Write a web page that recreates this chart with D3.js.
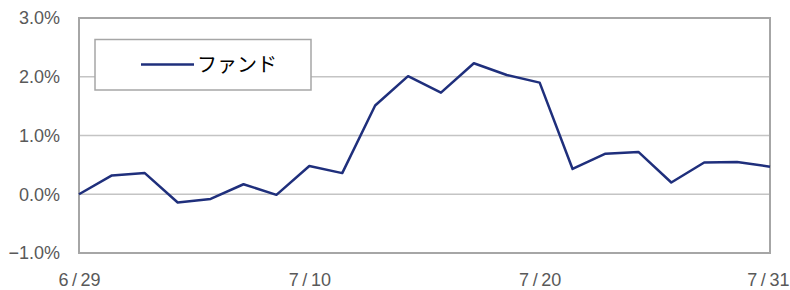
<!DOCTYPE html>
<html>
<head>
<meta charset="utf-8">
<script src="https://cdn.jsdelivr.net/npm/d3@7"></script>
<style>
  body { margin: 0; background: #fff; }
  .tick text { fill: #595959; font-family: "Liberation Sans", Arial, sans-serif; font-size: 18px; }
</style>
</head>
<body>
<div id="chart"></div>
<script>
// trading days, 2018
const dates = ['6/29', '7/2', '7/3', '7/4', '7/5', '7/6', '7/9', '7/10', '7/11', '7/12', '7/13',
  '7/17', '7/18', '7/19', '7/20', '7/23', '7/24', '7/25', '7/26', '7/27', '7/30', '7/31'];
const fund = [0.00, 0.32, 0.36, -0.14, -0.08, 0.17, -0.01, 0.48, 0.36, 1.51, 2.01,
  1.73, 2.23, 2.03, 1.90, 0.43, 0.69, 0.72, 0.20, 0.54, 0.55, 0.47];
const xTicks = ['6/29', '7/10', '7/20', '7/31'];
const yTicks = [-1, 0, 1, 2, 3];
const seriesName = 'ファンド';

const width = 790;
const height = 290;
const margin = {top: 18, right: 20, bottom: 37, left: 79};

const svg = d3.select('#chart').append('svg')
    .attr('width', width)
    .attr('height', height);

const x = d3.scalePoint()
    .domain(dates)
    .range([margin.left, width - margin.right]);

const y = d3.scaleLinear()
    .domain([-1, 3])
    .range([height - margin.bottom, margin.top]);

// gridlines
svg.append('g')
    .selectAll('line')
    .data(yTicks.filter(d => d > -1 && d < 3))
    .join('line')
    .attr('x1', margin.left)
    .attr('x2', width - margin.right)
    .attr('y1', d => y(d))
    .attr('y2', d => y(d))
    .attr('stroke', '#c4c4c4')
    .attr('stroke-width', 1.5);

// y axis labels
const yAxis = d3.axisLeft(y)
    .tickValues(yTicks)
    .tickSize(0)
    .tickPadding(19)
    .tickFormat(d => (d < 0 ? '\u2212' : '') + Math.abs(d).toFixed(1) + '%');

svg.append('g')
    .attr('transform', `translate(${margin.left},0)`)
    .call(yAxis)
    .call(g => g.select('.domain').remove());

// x axis labels, slash spaced out a little like the original
const xAxis = d3.axisBottom(x)
    .tickValues(xTicks)
    .tickSize(0)
    .tickPadding(20)
    .tickFormat(d => d.replace('/', '\u2009/\u2009'));

svg.append('g')
    .attr('transform', `translate(0,${height - margin.bottom})`)
    .call(xAxis)
    .call(g => g.select('.domain').remove())
    .call(g => g.selectAll('.tick:last-of-type text')
        .attr('text-anchor', 'end')
        .attr('dx', 19));

// plot border
svg.append('rect')
    .attr('x', margin.left)
    .attr('y', margin.top)
    .attr('width', width - margin.right - margin.left)
    .attr('height', height - margin.bottom - margin.top)
    .attr('fill', 'none')
    .attr('stroke', '#a6a6a6')
    .attr('stroke-width', 2);

// series line
const line = d3.line()
    .x((d, i) => x(dates[i]))
    .y(d => y(d));

svg.append('path')
    .datum(fund)
    .attr('fill', 'none')
    .attr('stroke', '#1f2f7c')
    .attr('stroke-width', 2.5)
    .attr('stroke-linejoin', 'round')
    .attr('d', line);

// legend
const legend = svg.append('g');
legend.append('rect')
    .attr('x', 95)
    .attr('y', 39.5)
    .attr('width', 216)
    .attr('height', 50.5)
    .attr('fill', '#fff')
    .attr('stroke', '#a6a6a6')
    .attr('stroke-width', 1.5);
legend.append('line')
    .attr('x1', 141)
    .attr('x2', 194)
    .attr('y1', 64.5)
    .attr('y2', 64.5)
    .attr('stroke', '#1f2f7c')
    .attr('stroke-width', 2.5);
legend.append('text')
    .attr('x', 197)
    .attr('y', 72)
    .attr('font-family', '"Noto Sans CJK JP", sans-serif')
    .attr('font-size', 20)
    .attr('fill', '#000')
    .text(seriesName);
</script>
</body>
</html>
